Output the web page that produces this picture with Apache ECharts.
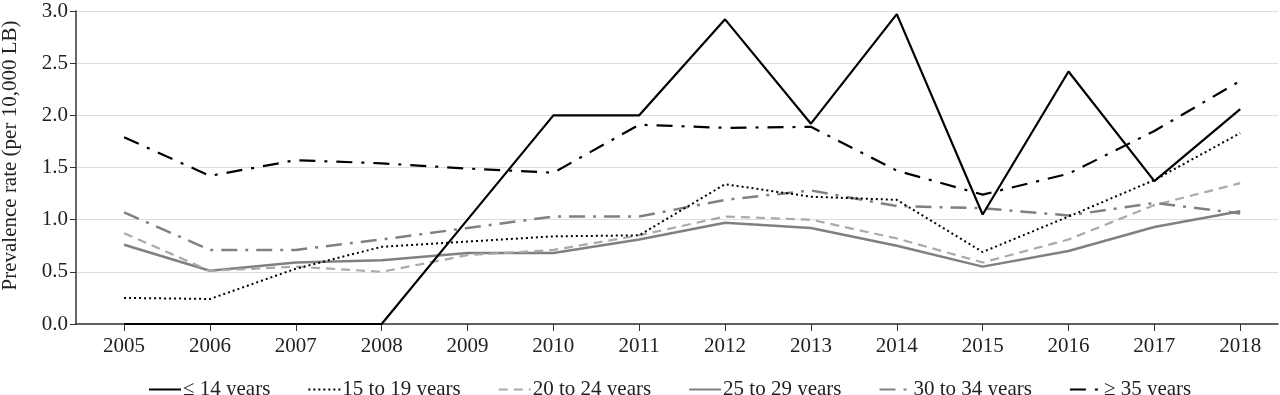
<!DOCTYPE html>
<html>
<head>
<meta charset="utf-8">
<script src="https://cdn.jsdelivr.net/npm/echarts@6/dist/echarts.min.js"></script>
<style>html,body{margin:0;padding:0;background:#fff}#c{width:1280px;height:395px}</style>
</head>
<body>
<div id="c"></div>
<script>
const years = [2005,2006,2007,2008,2009,2010,2011,2012,2013,2014,2015,2016,2017,2018];
const yTicks = [0,0.5,1,1.5,2,2.5,3];
const seriesNames = ['≤ 14 years','15 to 19 years','20 to 24 years','25 to 29 years','30 to 34 years','≥ 35 years'];
const le14   = [0,0,0,0,1.0,2.0,2.0,2.92,1.92,2.97,1.05,2.42,1.37,2.06];
const a15_19 = [0.25,0.24,0.53,0.74,0.79,0.84,0.85,1.34,1.22,1.19,0.69,1.03,1.38,1.83];
const a20_24 = [0.87,0.51,0.55,0.50,0.66,0.71,0.85,1.03,1.00,0.82,0.59,0.81,1.14,1.35];
const a25_29 = [0.76,0.51,0.59,0.61,0.68,0.68,0.81,0.97,0.92,0.75,0.55,0.70,0.93,1.08];
const a30_34 = [1.07,0.71,0.71,0.81,0.92,1.03,1.03,1.19,1.28,1.13,1.11,1.04,1.16,1.06];
const ge35   = [1.79,1.42,1.57,1.54,1.49,1.45,1.91,1.88,1.89,1.47,1.24,1.44,1.85,2.33];

const font = 'Liberation Serif';
const styles = [
  {color:'#000', type:'solid', width:2.2},
  {color:'#000', type:[2,3], width:2},
  {color:'#aaa', type:[9,6], width:2.2},
  {color:'#808080', type:'solid', width:2.5},
  {color:'#808080', type:[16,8,3,8], width:2.5},
  {color:'#000', type:[16,9,3,9], width:2.2}
];
const values = [le14,a15_19,a20_24,a25_29,a30_34,ge35];

const chart = echarts.init(document.getElementById('c'), null, {renderer:'canvas'});
chart.setOption({
  animation:false,
  backgroundColor:'#fff',
  grid:{left:76,right:2,top:11,bottom:71,outerBoundsMode:'none',containLabel:false},
  xAxis:{
    type:'value', min:2004.44, max:2018.44,
    axisLine:{show:true,lineStyle:{color:'#333',width:1.5}},
    axisTick:{show:true,length:7,lineStyle:{color:'#333',width:1},customValues:years},
    axisLabel:{customValues:years,fontFamily:font,fontSize:21,color:'#222',margin:12,formatter:v=>String(Math.round(v))},
    splitLine:{show:false}
  },
  yAxis:{
    type:'value', min:0, max:3, interval:0.5,
    name:'Prevalence rate (per 10,000 LB)', nameLocation:'middle', nameGap:55,
    nameTextStyle:{fontFamily:font,fontSize:21,color:'#222',padding:[0,0,0,24]},
    axisLine:{show:true,lineStyle:{color:'#333',width:1.5}},
    axisTick:{show:true,length:6,lineStyle:{color:'#333'}},
    axisLabel:{fontFamily:font,fontSize:21,color:'#222',margin:8,formatter:v=>v.toFixed(1)},
    splitLine:{show:true,lineStyle:{color:'#ddd',width:1.2}}
  },
  legend:{
    top:374, left:143, itemWidth:32, itemHeight:14, itemGap:37,
    textStyle:{fontFamily:font,fontSize:21,color:'#222',padding:[0,0,0,-3]},
    itemStyle:{opacity:0},
    data:seriesNames
  },
  series: seriesNames.map((n,i)=>({
    name:n, type:'line', symbol:'none', showSymbol:false,
    data: years.map((y,j)=>[y, values[i][j]]),
    lineStyle:{color:styles[i].color,type:styles[i].type,width:styles[i].width},
    itemStyle:{color:styles[i].color},
    z: [6,5,3,2,4,7][i]
  }))
});
</script>
</body>
</html>
